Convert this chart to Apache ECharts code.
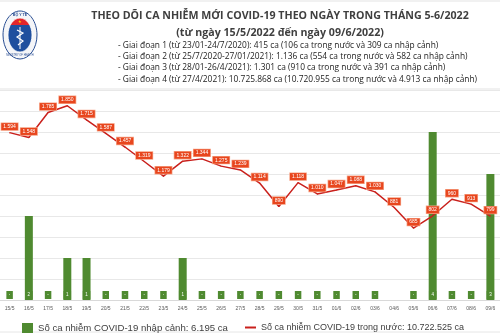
<!DOCTYPE html>
<html>
<head>
<meta charset="utf-8">
<script src="https://cdn.jsdelivr.net/npm/echarts@6/dist/echarts.min.js"></script>
<style>
  html, body { margin: 0; padding: 0; background: #ffffff; }
  #chart { width: 500px; height: 333px; }
</style>
</head>
<body>
<div id="chart"></div>
<script>
// Days shown on the category axis
const days = ['15/5','16/5','17/5','18/5','19/5','20/5','21/5','22/5','23/5','24/5','25/5','26/5','27/5',
  '28/5','29/5','30/5','31/5','01/6','02/6','03/6','04/6','05/6','06/6','07/6','08/6','09/6'];

// Domestic cases per day (line)
const domesticCases = [1594, 1548, 1785, 1850, 1715, 1587, 1457, 1319, 1179, 1322, 1344, 1275, 1239,
  1114, 890, 1118, 1010, 1047, 1088, 1030, 881, 685, 802, 960, 913, 799];

// Imported cases per day (bars); null = no report
const importedCases = [0, 2, 0, 1, 1, 0, 0, 0, 0, 1, 0, 0, 0,
  0, 0, 0, 0, 0, 0, 0, null, 0, 4, 0, 0, 3];

const importedName = 'Số ca nhiễm COVID-19 nhập cảnh: 6.195 ca';
const domesticName = 'Số ca nhiễm COVID-19 trong nước: 10.722.525 ca';

const titleLines = [
  'THEO DÕI CA NHIỄM MỚI COVID-19 THEO NGÀY TRONG THÁNG 5-6/2022',
  '(từ ngày 15/5/2022 đến ngày 09/6/2022)'
];
const phaseLines = [
  '- Giai đoạn 1 (từ 23/01-24/7/2020): 415 ca (106 ca trong nước và 309 ca nhập cảnh)',
  '- Giai đoạn 2 (từ 25/7/2020-27/01/2021): 1.136 ca (554 ca trong nước và 582 ca nhập cảnh)',
  '- Giai đoạn 3 (từ 28/01-26/4/2021): 1.301 ca (910 ca trong nước và 391 ca nhập cảnh)',
  '- Giai đoạn 4 (từ 27/4/2021): 10.725.868 ca (10.720.955 ca trong nước và 4.913 ca nhập cảnh)'
];

const GREEN = '#4f8a30';
const RED = '#c9201c';
const LABEL_RED = '#e8461e';

function dotted(v) {
  return String(v).replace(/\B(?=(\d{3})+(?!\d))/g, '.');
}

const chart = echarts.init(document.getElementById('chart'), null, { renderer: 'canvas' });

const headerGraphics = [
  // header frame
  { type: 'rect', shape: { x: -2, y: 1, width: 504, height: 88 },
    style: { fill: '#ffffff', stroke: '#e3e3e3', lineWidth: 1 }, z: 0 },
  { type: 'line', shape: { x1: 0, y1: 332, x2: 500, y2: 332 },
    style: { stroke: '#e6e6e6', lineWidth: 1 } },
  // ministry emblem
  { type: 'ellipse', shape: { cx: 20, cy: 35, rx: 17, ry: 24 },
    style: { fill: '#f4f5f8', stroke: '#2a4f94', lineWidth: 1 } },
  { type: 'ellipse', shape: { cx: 20, cy: 35, rx: 12, ry: 17 },
    style: {
      fill: new echarts.graphic.LinearGradient(0, 0, 0, 1, [
        { offset: 0, color: '#e3262b' }, { offset: 0.22, color: '#e3262b' },
        { offset: 0.22, color: '#1f4f9e' }, { offset: 1, color: '#1f4f9e' }
      ]),
      stroke: '#ffffff', lineWidth: 0.8
    } },
  { type: 'text', style: { text: '★', x: 20, y: 22, fontSize: 4, fill: '#ffd400',
    align: 'center', verticalAlign: 'middle' } },
  { type: 'line', shape: { x1: 20, y1: 27, x2: 20, y2: 49 },
    style: { stroke: '#ffffff', lineWidth: 1 } },
  { type: 'polyline', shape: { points: [[17, 30], [23, 33], [17, 37], [23, 41], [18, 45]] },
    style: { stroke: '#ffffff', lineWidth: 1.2, fill: null } },
  { type: 'text', style: { text: 'BỘ Y TẾ', x: 20, y: 14.5, fontSize: 3.6, fontWeight: 'bold',
    fill: '#2a4f94', align: 'center', verticalAlign: 'middle' } },
  { type: 'text', style: { text: 'MINISTRY OF HEALTH', x: 20, y: 55.5, fontSize: 2.6,
    fill: '#2a4f94', align: 'center', verticalAlign: 'middle' } }
];

titleLines.forEach(function (t, i) {
  headerGraphics.push({
    type: 'text',
    style: {
      text: t, x: 280, y: 16 + i * 16.5, align: 'center', verticalAlign: 'middle',
      fontFamily: 'Open Sans', fontWeight: 'bold', fontSize: 10.65, fill: '#3f3f3f'
    }
  });
});
phaseLines.forEach(function (t, i) {
  headerGraphics.push({
    type: 'text',
    style: {
      text: t, x: 118, y: 45.5 + i * 11.3, align: 'left', verticalAlign: 'middle',
      fontFamily: 'Open Sans', fontSize: 8.4, fill: '#222222'
    }
  });
});

chart.setOption({
  animation: false,
  backgroundColor: '#ffffff',
  textStyle: { fontFamily: 'Liberation Sans' },
  graphic: headerGraphics,
  grid: { left: -1.72, right: -3.7, top: 90, bottom: 33, containLabel: false },
  legend: [
    {
      data: [{ name: importedName, icon: 'rect' }],
      left: 17, top: 318, itemWidth: 11, itemHeight: 10, itemGap: 0,
      textStyle: { fontSize: 9.6, color: '#404040', fontFamily: 'Liberation Sans' }
    },
    {
      data: [{ name: domesticName, icon: 'rect' }],
      left: 240, top: 318, itemWidth: 11, itemHeight: 2, itemGap: 0,
      textStyle: { fontSize: 9.0, color: '#404040', fontFamily: 'Liberation Sans' }
    }
  ],
  xAxis: {
    type: 'category',
    data: days,
    axisLine: { show: true, lineStyle: { color: '#d9d9d9', width: 1 } },
    axisTick: { show: false },
    axisLabel: { fontSize: 5, color: '#595959', margin: 6, interval: 0 }
  },
  yAxis: [
    {
      type: 'value', min: 0, max: 2000, interval: 200,
      axisLabel: { show: false }, axisLine: { show: false }, axisTick: { show: false },
      splitLine: { lineStyle: { color: '#e8e8e8', width: 1 } }
    },
    {
      type: 'value', min: 0, max: 5, interval: 0.5,
      axisLabel: { show: false }, axisLine: { show: false }, axisTick: { show: false },
      splitLine: { show: false }
    }
  ],
  series: [
    {
      name: importedName,
      type: 'bar',
      yAxisIndex: 1,
      data: importedCases,
      barWidth: 8,
      itemStyle: { color: GREEN },
      label: {
        show: true,
        position: 'insideBottom',
        distance: 1,
        formatter: function (p) { return p.value === 0 ? '-' : String(p.value); },
        fontSize: 4.5,
        lineHeight: 6,
        color: '#ffffff',
        backgroundColor: GREEN,
        padding: [1, 2.5]
      },
      z: 2
    },
    {
      name: domesticName,
      type: 'line',
      yAxisIndex: 0,
      data: domesticCases,
      symbol: 'circle',
      symbolSize: 1,
      itemStyle: { color: RED },
      lineStyle: { color: RED, width: 1.5 },
      label: {
        show: true,
        position: 'top',
        distance: 2,
        formatter: function (p) { return dotted(p.value); },
        fontSize: 5,
        lineHeight: 6,
        color: '#ffffff',
        backgroundColor: LABEL_RED,
        borderColor: '#f6a487',
        borderWidth: 0.7,
        padding: [0.5, 2]
      },
      z: 3
    }
  ]
});
</script>
</body>
</html>
